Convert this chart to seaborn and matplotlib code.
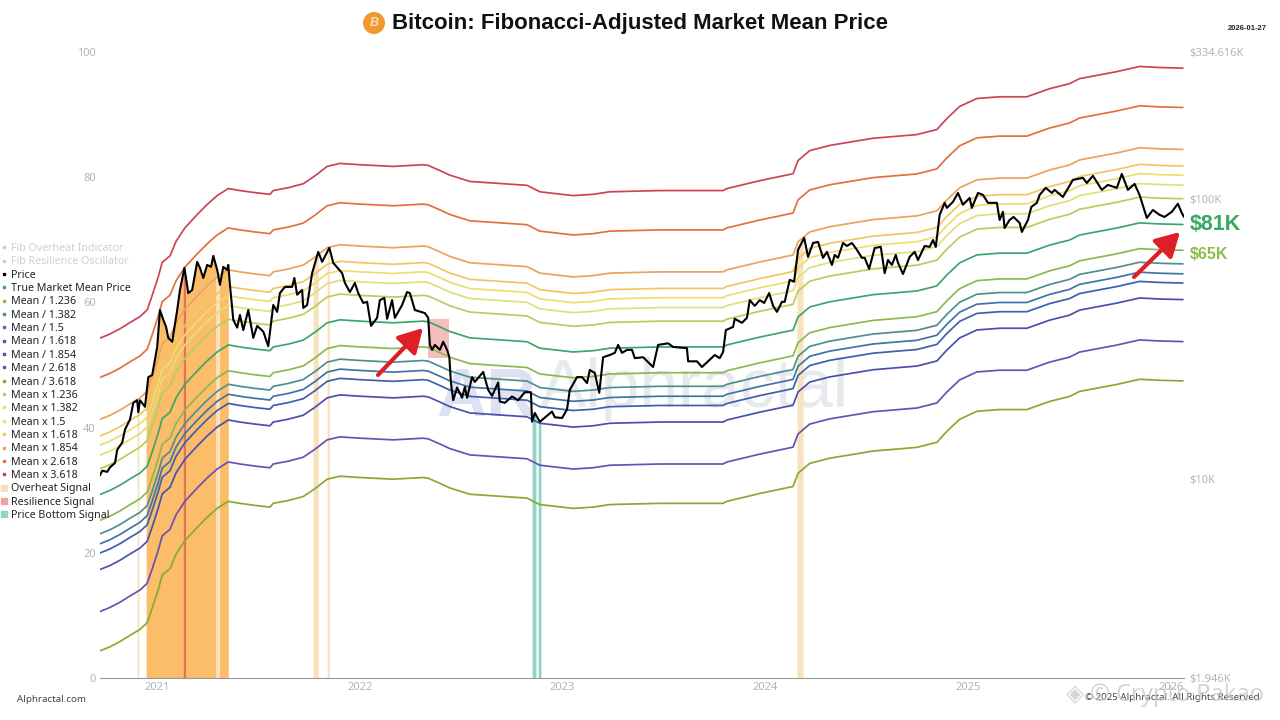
import numpy as np
import pandas as pd
import matplotlib
matplotlib.use("Agg")
import matplotlib.pyplot as plt
from matplotlib.lines import Line2D
from matplotlib.patches import Ellipse
import seaborn as sns

ORIGIN = pd.Timestamp("2021-01-01")

# Days since 2021-01-01 and BTC price in $K
price_days = [-103,-99,-90,-85,-76,-72,-63,-58,-49,-43,-36,-34,-31,-22,-16,-9,0,5,11,16,20,27,36,41,49,56,63,72,77,83,90,97,101,108,113,119,126,128,131,137,144,149,155,164,173,180,191,200,209,216,221,230,243,247,252,261,263,270,279,290,297,310,317,333,338,347,356,362,371,378,385,396,401,409,414,423,428,441,450,455,464,482,488,491,495,500,509,515,522,526,529,533,540,549,554,558,567,572,587,596,603,614,617,626,639,650,662,673,675,680,689,711,716,729,738,743,756,765,774,779,788,796,803,815,824,830,837,846,855,860,875,893,902,920,929,954,956,972,981,1004,1013,1019,1024,1037,1040,1053,1062,1067,1076,1085,1093,1102,1109,1116,1125,1130,1139,1147,1154,1165,1172,1181,1190,1199,1206,1215,1220,1226,1235,1242,1251,1260,1269,1274,1282,1292,1303,1310,1316,1323,1330,1334,1343,1355,1364,1370,1382,1391,1397,1402,1409,1418,1422,1433,1442,1451,1463,1467,1478,1487,1496,1512,1517,1523,1526,1535,1542,1553,1557,1568,1574,1584,1589,1600,1611,1616,1631,1649,1667,1674,1685,1701,1712,1728,1737,1748,1760,1769,1782,1793,1805,1814,1827,1838,1845,1849]
price_k = [10.3,10.7,10.6,11.0,11.4,12.7,13.5,15.0,16.3,18.7,19.1,17.3,19.1,18.1,23.1,23.5,29.6,40.1,37.0,34.9,31.9,30.9,40.1,47.3,56.7,46.1,47.3,59.6,56.7,52.2,58.1,57.2,62.6,55.8,49.3,57.2,55.8,58.1,49.3,37.0,34.7,38.5,34.0,40.1,31.9,35.2,33.6,29.8,41.8,39.5,46.1,48.5,48.5,52.2,45.5,47.3,40.8,41.8,54.3,64.7,59.6,66.9,59.1,54.3,50.1,46.5,50.1,46.1,42.5,42.9,35.2,37.6,43.5,44.3,37.3,43.5,37.6,41.8,46.5,46.1,40.1,39.1,37.6,30.1,28.9,30.1,28.9,30.9,28.9,27.3,22.0,19.1,21.2,19.5,21.3,19.5,23.1,22.2,24.1,20.8,19.8,22.1,18.9,18.7,19.7,19.1,20.4,20.4,16.0,17.2,16.0,17.4,16.6,16.5,17.7,20.8,23.1,23.1,22.0,24.5,23.9,20.3,27.2,27.7,28.2,30.1,28.2,28.9,28.9,27.0,27.2,25.1,30.1,30.5,29.6,29.3,26.3,26.3,25.1,27.7,27.0,28.4,34.0,34.9,37.3,36.1,37.6,43.5,41.5,43.5,42.5,46.1,41.5,39.5,42.9,42.9,51.4,50.6,65.8,72.6,62.1,69.6,70.2,61.6,64.7,58.1,63.1,61.6,69.6,67.9,69.6,65.8,61.6,61.6,56.2,66.8,67.4,54.3,60.5,58.1,63.1,59.1,53.9,62.1,64.7,60.5,67.9,67.4,71.3,67.4,87.7,96.8,92.9,97.6,105.0,95.3,100.8,92.9,105.0,103.3,96.8,96.8,84.1,89.9,78.7,84.1,86.2,82.1,76.2,84.1,93.6,96.8,103.3,109.5,105.0,107.7,101.6,116.9,118.9,114.0,120.9,107.7,112.2,109.5,122.8,107.7,113.1,103.3,85.5,91.3,87.7,86.2,89.9,96.1,89.1,86.2]

# True Market Mean in $K
mean_days = [-103,-85,-67,-49,-31,-18,-9,2,9,23,34,50,72,90,108,128,149,176,203,209,236,263,284,306,329,365,425,479,488,509,527,563,666,689,749,785,815,905,1019,1026,1085,1145,1154,1175,1211,1289,1368,1404,1422,1445,1476,1517,1566,1607,1643,1661,1728,1769,1805,1847]
mean_k = [8.8,9.1,9.5,10.0,10.5,11.1,12.5,14.6,16.4,17.3,19.5,21.8,24.3,26.4,28.4,30.1,29.6,29.1,28.7,29.6,30.3,31.3,33.4,36.1,37.0,36.6,36.1,36.6,36.4,34.9,33.6,31.9,30.9,29.3,28.4,28.7,29.3,29.6,29.6,30.1,32.1,34.0,37.9,41.1,42.9,45.5,46.9,48.9,53.5,59.1,63.1,64.0,64.0,68.4,71.3,74.3,78.7,82.1,81.4,81.0]

# The bands are the mean scaled by the ratios printed in the chart's own legend
band_names = ["True Market Mean Price", "Mean / 1.236", "Mean / 1.382", "Mean / 1.5", "Mean / 1.618", "Mean / 1.854",
              "Mean / 2.618", "Mean / 3.618", "Mean x 1.236", "Mean x 1.382", "Mean x 1.5", "Mean x 1.618",
              "Mean x 1.854", "Mean x 2.618", "Mean x 3.618"]
band_ratios = [1, 1/1.236, 1/1.382, 1/1.5, 1/1.618, 1/1.854, 1/2.618, 1/3.618,
               1.236, 1.382, 1.5, 1.618, 1.854, 2.618, 3.618]
band_colors = ["#3ba56c", "#8db84f", "#4f8f8f", "#3f73a8", "#3c5fae", "#4a4fb0", "#6a50b0", "#86ab2e",
               "#b5cf5e", "#dfe07a", "#f0dc6c", "#f2c662", "#e9a45c", "#e2703f", "#cc4455"]

# Signal windows, in days since 2021-01-01
overheat_strong = [(-20, 106), (112, 128)]
overheat_pale = [(-36, -33), (106, 112), (281, 290), (306, 310), (1152, 1163)]
resilience_line = [(47, 51)]
resilience_box = (488, 526, 27.0, 37.2)
bottom_spans = [(675, 682), (686, 691)]

year_ticks = [2021, 2022, 2023, 2024, 2025, 2026]
right_ticks = [1946, 10000, 100000, 334616]
right_labels = ["$1.946K", "$10K", "$100K", "$334.616K"]
left_ticks = [0, 20, 40, 60, 80, 100]

sns.set_theme(style="white")
plt.rcParams["font.family"] = ["Noto Sans", "DejaVu Sans"]

W, H = 1280, 720
fig = plt.figure(figsize=(W / 100, H / 100), dpi=100, facecolor="white")
ax = fig.add_axes([100 / W, 1 - 678 / H, (1184 - 100) / W, (678 - 52) / H])
GREY = "#b4b4b4"


def to_date(days):
    return ORIGIN + pd.to_timedelta(np.asarray(days, dtype=float), unit="D")


pd_arr = np.array(price_days, float)
pk_arr = np.array(price_k) * 1000
md_arr = np.array(mean_days, float)
mk_arr = np.array(mean_k) * 1000


def signal(d0, d1, color, z, alpha=1.0):
    inside = (pd_arr > d0) & (pd_arr < d1)
    xs = np.r_[d0, pd_arr[inside], d1]
    ys = np.interp(xs, pd_arr, pk_arr)
    ax.fill_between(to_date(xs), 1946, ys, color=color, lw=0, zorder=z, alpha=alpha)


for a, b in overheat_strong:
    signal(a, b, "#fbbd6a", 1)
for a, b in overheat_pale:
    signal(a, b, "#f7e2bd", 1)
for a, b in resilience_line:
    signal(a, b, "#e2705c", 1.5)
for a, b in bottom_spans:
    signal(a, b, "#93d2c6", 1)
x0, x1, y0, y1 = resilience_box
ax.fill_between(to_date([x0, x1]), y0 * 1000, y1 * 1000, color="#f2aeae", alpha=0.8, lw=0, zorder=1)

bands = pd.concat([pd.DataFrame({"date": to_date(md_arr), "usd": mk_arr * r, "series": n})
                   for n, r in zip(band_names, band_ratios)], ignore_index=True)
sns.lineplot(data=bands, x="date", y="usd", hue="series", hue_order=band_names,
             palette=dict(zip(band_names, band_colors)), estimator=None, sort=False,
             legend=False, linewidth=1.25, ax=ax, zorder=3)
price_df = pd.DataFrame({"date": to_date(pd_arr), "usd": pk_arr})
sns.lineplot(data=price_df, x="date", y="usd", color="black", estimator=None, sort=False,
             legend=False, linewidth=1.5, ax=ax, zorder=4)

ax.set_yscale("log")
ax.set_ylim(1946, 334616)
ax.set_xlim(to_date(-103), to_date(1849))
ax.set_xlabel("")
ax.set_ylabel("")
ax.set_xticks([pd.Timestamp(f"{y}-01-01") for y in year_ticks])
ax.set_xticklabels([str(y) for y in year_ticks])
ax.tick_params(axis="x", length=0, pad=3, labelsize=8, labelcolor=GREY)
for side in ["top", "left", "right"]:
    ax.spines[side].set_visible(False)
ax.spines["bottom"].set_color("#999999")
ax.spines["bottom"].set_linewidth(0.8)
ax.patch.set_alpha(0)

left = ax.twinx()
left.set_ylim(0, 100)
left.yaxis.tick_left()
left.set_yticks(left_ticks)
left.tick_params(axis="y", length=0, pad=3, labelsize=8, labelcolor=GREY)
left.grid(False)
for s in left.spines.values():
    s.set_visible(False)
left.patch.set_alpha(0)

# twinx moves the price ticks, so set them on the right afterwards
ax.yaxis.tick_right()
ax.set_yticks(right_ticks)
ax.set_yticklabels(right_labels)
ax.minorticks_off()
ax.tick_params(axis="y", length=0, pad=4, labelsize=8, labelcolor=GREY)

# Watermark behind the lines
fig.text(436 / W, 1 - 416 / H, "AR", fontsize=50, fontweight="bold", color="#dde1f2",
         family="Liberation Sans", zorder=-5)
fig.text(540 / W, 1 - 407 / H, "Alphractal", fontsize=50, color="#e8e8ef",
         family="Liberation Sans", zorder=-5)

# Legend
hs = [Line2D([], [], ls="none", marker="s", ms=2, color="#cccccc"),
      Line2D([], [], ls="none", marker="s", ms=2, color="#cccccc"),
      Line2D([], [], ls="none", marker="s", ms=2, color="black")]
labels = ["Fib Overheat Indicator", "Fib Resilience Oscillator", "Price"]
for n, c in zip(band_names, band_colors):
    hs.append(Line2D([], [], ls="none", marker="s", ms=2, color=c))
    labels.append(n)
for n, c in [("Overheat Signal", "#f7e2bd"), ("Resilience Signal", "#eea3a3"), ("Price Bottom Signal", "#93d2c6")]:
    hs.append(Line2D([], [], ls="none", marker="s", ms=4, color=c))
    labels.append(n)
leg = fig.legend(hs, labels, loc="upper left", bbox_to_anchor=(1 / W, 1 - 243 / H), frameon=False,
                 fontsize=7.7, labelspacing=0.22, handlelength=0.6, handletextpad=0.3,
                 borderpad=0, borderaxespad=0, labelcolor="#222222")
for t in leg.get_texts()[:2]:
    t.set_color("#cfcfcf")

# Title with the coin badge
fig.add_artist(Ellipse((374 / W, 1 - 23 / H), 22 / W, 22 / H, transform=fig.transFigure,
                       facecolor="#ee9a2f", edgecolor="none"))
fig.text(374 / W, 1 - 23 / H, "B", color="#fbe0b5", fontsize=9, fontweight="bold", ha="center", va="center",
         style="italic", family="Liberation Sans")
fig.text(392 / W, 1 - 23 / H, "Bitcoin: Fibonacci-Adjusted Market Mean Price", fontsize=16, fontweight="bold",
         color="#111111", ha="left", va="center", family="Liberation Sans")
fig.text(1267 / W, 1 - 28 / H, "2026-01-27", fontsize=5.5, fontweight="bold", color="#222222",
         ha="right", va="center", family="Liberation Sans")

# Callouts
fig.text(1190 / W, 1 - 225 / H, "$81K", fontsize=15.5, fontweight="bold", color="#3aa860", va="center",
         family="Liberation Sans")
fig.text(1190 / W, 1 - 254 / H, "$65K", fontsize=11.5, fontweight="bold", color="#8dbb4c", va="center",
         family="Liberation Sans")
for (xa, ya), (xb, yb) in [((378, 375), (423, 328)), ((1134, 277), (1180, 232))]:
    ax.annotate("", xy=(xb, H - yb), xytext=(xa, H - ya), xycoords="figure pixels", textcoords="figure pixels",
                arrowprops=dict(arrowstyle="-|>,head_width=0.45,head_length=0.8", color="#dd2027", lw=3,
                                mutation_scale=18, shrinkA=0, shrinkB=0), zorder=6)

# Footer
fig.text(17 / W, 1 - 699 / H, "Alphractal.com", fontsize=7, color="#444444", va="center")
fig.text(1085 / W, 1 - 698 / H, "© 2025 Alphractal. All Rights Reserved", fontsize=7, color="#444444", va="center")
fig.text(1066 / W, 1 - 695 / H, "◈ © Crypto Pakao", fontsize=17, color="#c4c4c4", va="center", alpha=0.7)

fig.savefig("out.png", dpi=100, facecolor="white")
